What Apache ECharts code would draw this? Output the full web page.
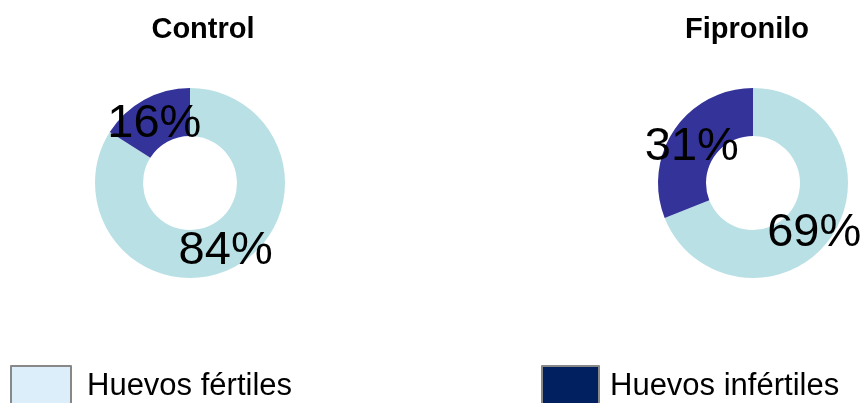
<!DOCTYPE html>
<html>
<head>
<meta charset="utf-8">
<script src="https://cdn.jsdelivr.net/npm/echarts@6/dist/echarts.min.js"></script>
<style>
  html, body { margin: 0; padding: 0; background: #fff; }
  #chart { width: 860px; height: 403px; }
</style>
</head>
<body>
<div id="chart"></div>
<script>
// categories and values (percent)
const categories = ['Huevos fértiles', 'Huevos infértiles'];
const groups = ['Control', 'Fipronilo'];
const controlValues = [84, 16];
const fipronilValues = [69, 31];

const sliceColors = ['#b9e0e5', '#333399'];
const legendColors = ['#dbeefa', '#002060'];
const font = 'Arial, "Liberation Sans", sans-serif';

function toData(values, offsets) {
  return categories.map((name, i) => ({
    name: name,
    value: values[i],
    itemStyle: { color: sliceColors[i] },
    label: { offset: offsets[i] }
  }));
}

function donut(center, values, offsets) {
  return {
    type: 'pie',
    center: center,
    radius: [47, 95],
    startAngle: 90,
    clockwise: true,
    silent: true,
    animation: false,
    label: {
      show: true,
      position: 'inside',
      formatter: '{c}%',
      color: '#000',
      fontSize: 47,
      fontFamily: font
    },
    labelLine: { show: false },
    emphasis: { disabled: true },
    data: toData(values, offsets)
  };
}

function legendAt(x, i, w, gap) {
  return {
    left: x,
    top: 365,
    padding: 0,
    itemWidth: w,
    itemHeight: 40,
    itemGap: 0,
    selectedMode: false,
    icon: 'rect',
    textStyle: { fontSize: 31, color: '#000', fontFamily: font, padding: [2, 0, 0, gap] },
    data: [{
      name: categories[i],
      itemStyle: { color: legendColors[i], borderColor: '#888', borderWidth: 2 }
    }]
  };
}

const chart = echarts.init(document.getElementById('chart'));
chart.setOption({
  animation: false,
  title: [
    { text: groups[0], left: 198, top: 10, textAlign: 'center',
      textStyle: { fontSize: 29, fontWeight: 'bold', color: '#000', fontFamily: font } },
    { text: groups[1], left: 742, top: 10, textAlign: 'center',
      textStyle: { fontSize: 29, fontWeight: 'bold', color: '#000', fontFamily: font } }
  ],
  legend: [legendAt(10, 0, 60, 11), legendAt(541, 1, 57, 6)],
  series: [
    donut([190, 183], controlValues, [[0, 3], [0, 6]]),
    donut([753, 183], fipronilValues, [[0, 8], [0, 6]])
  ]
});
</script>
</body>
</html>
